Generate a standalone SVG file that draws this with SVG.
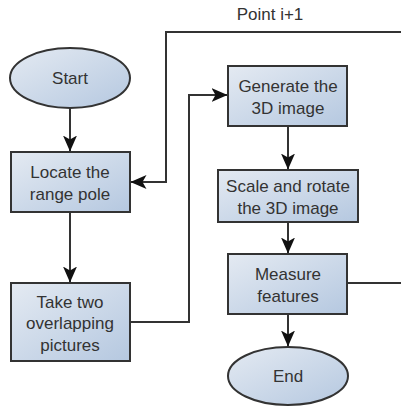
<svg xmlns="http://www.w3.org/2000/svg" width="401" height="408" viewBox="0 0 401 408">
<defs>
<linearGradient id="g" x1="0" y1="0" x2="1" y2="1">
<stop offset="0" stop-color="#e4eaf2"/>
<stop offset="1" stop-color="#b5c8e0"/>
</linearGradient>
<marker id="a" viewBox="0 0 16 14" refX="15.5" refY="7" markerWidth="16" markerHeight="14" markerUnits="userSpaceOnUse" orient="auto">
<path d="M0,0 L16,7 L0,14 L4,7 Z" fill="#111"/>
</marker>
<style>
.n{fill:url(#g);stroke:#333;stroke-width:2}
.t{font-family:"Liberation Sans",Arial,sans-serif;font-size:17px;fill:#333;text-anchor:middle}
.c{fill:none;stroke:#333;stroke-width:2}
</style>
</defs>
<rect width="401" height="408" fill="#fff"/>
<g id="connectors">
<path class="c" d="M70,108 V151" marker-end="url(#a)"/>
<path class="c" d="M70,212 V282" marker-end="url(#a)"/>
<path class="c" d="M130,322 H189 V95 H227" marker-end="url(#a)"/>
<path class="c" d="M288,126 V169" marker-end="url(#a)"/>
<path class="c" d="M288,222 V253" marker-end="url(#a)"/>
<path class="c" d="M288,314 V346" marker-end="url(#a)"/>
<path class="c" d="M347,283 H402 V32 H166 V182 H131" marker-end="url(#a)"/>
<text class="t" x="270" y="20">Point i+1</text>
</g>
<g id="start">
<ellipse class="n" cx="70" cy="78" rx="60" ry="30"/>
<text class="t" x="70" y="84">Start</text>
</g>
<g id="locate">
<rect class="n" x="11" y="152" width="119" height="60"/>
<text class="t" x="70" y="178">Locate the</text>
<text class="t" x="70" y="200">range pole</text>
</g>
<g id="take">
<rect class="n" x="11" y="283" width="119" height="78"/>
<text class="t" x="70" y="308">Take two</text>
<text class="t" x="70" y="329">overlapping</text>
<text class="t" x="70" y="351">pictures</text>
</g>
<g id="generate">
<rect class="n" x="228" y="66" width="119" height="60"/>
<text class="t" x="288" y="92">Generate the</text>
<text class="t" x="288" y="114">3D image</text>
</g>
<g id="scale">
<rect class="n" x="218" y="170" width="140" height="52"/>
<text class="t" x="288" y="192">Scale and rotate</text>
<text class="t" x="288" y="214">the 3D image</text>
</g>
<g id="measure">
<rect class="n" x="228" y="254" width="119" height="60"/>
<text class="t" x="288" y="280">Measure</text>
<text class="t" x="288" y="302">features</text>
</g>
<g id="end">
<ellipse class="n" cx="288" cy="376" rx="60" ry="29"/>
<text class="t" x="288" y="382">End</text>
</g>
</svg>
